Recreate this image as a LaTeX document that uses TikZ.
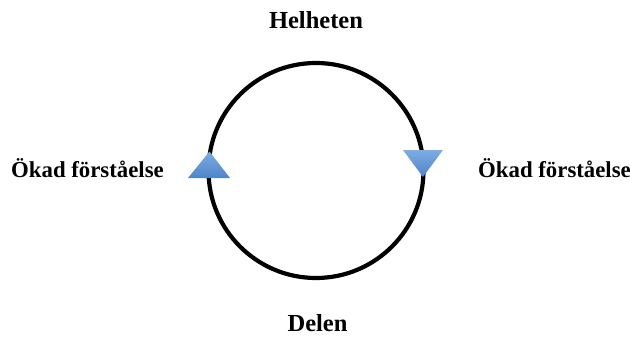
\documentclass[tikz,border=0pt]{standalone}
\usepackage{fontspec}
\setmainfont{Liberation Serif}
\definecolor{pointerlight}{RGB}{125,172,228}
\definecolor{pointerdark}{RGB}{78,132,200}
\begin{document}
\begin{tikzpicture}[x=1pt,y=-1pt,
  label/.style={inner sep=0pt, anchor=base},
  pointer/.style={top color=pointerlight, bottom color=pointerdark, draw=none}]
  \useasboundingbox (0,0) rectangle (630,337);
  % the cycle
  \coordinate (c) at (316,170.5);
  \draw[line width=4.2pt] (c) circle[radius=107.5];
  % direction markers on the circle
  \shade[pointer] (188,178) -- (230,178) -- (209.5,151.5) -- cycle;
  \shade[pointer] (403,150) -- (443,150) -- (423,177) -- cycle;
  % labels
  \node[label, font=\bfseries\fontsize{24.5}{28}\selectfont] (whole) at (316,29) {Helheten};
  \node[label, font=\bfseries\fontsize{24.5}{28}\selectfont] (part) at (317.5,331) {Delen};
  \node[label, font=\bfseries\fontsize{22.8}{26}\selectfont] (left) at (87.5,177) {Ökad förståelse};
  \node[label, anchor=base west, font=\bfseries\fontsize{22.8}{26}\selectfont] (right) at (478,177) {Ökad förståelse};
\end{tikzpicture}
\end{document}
